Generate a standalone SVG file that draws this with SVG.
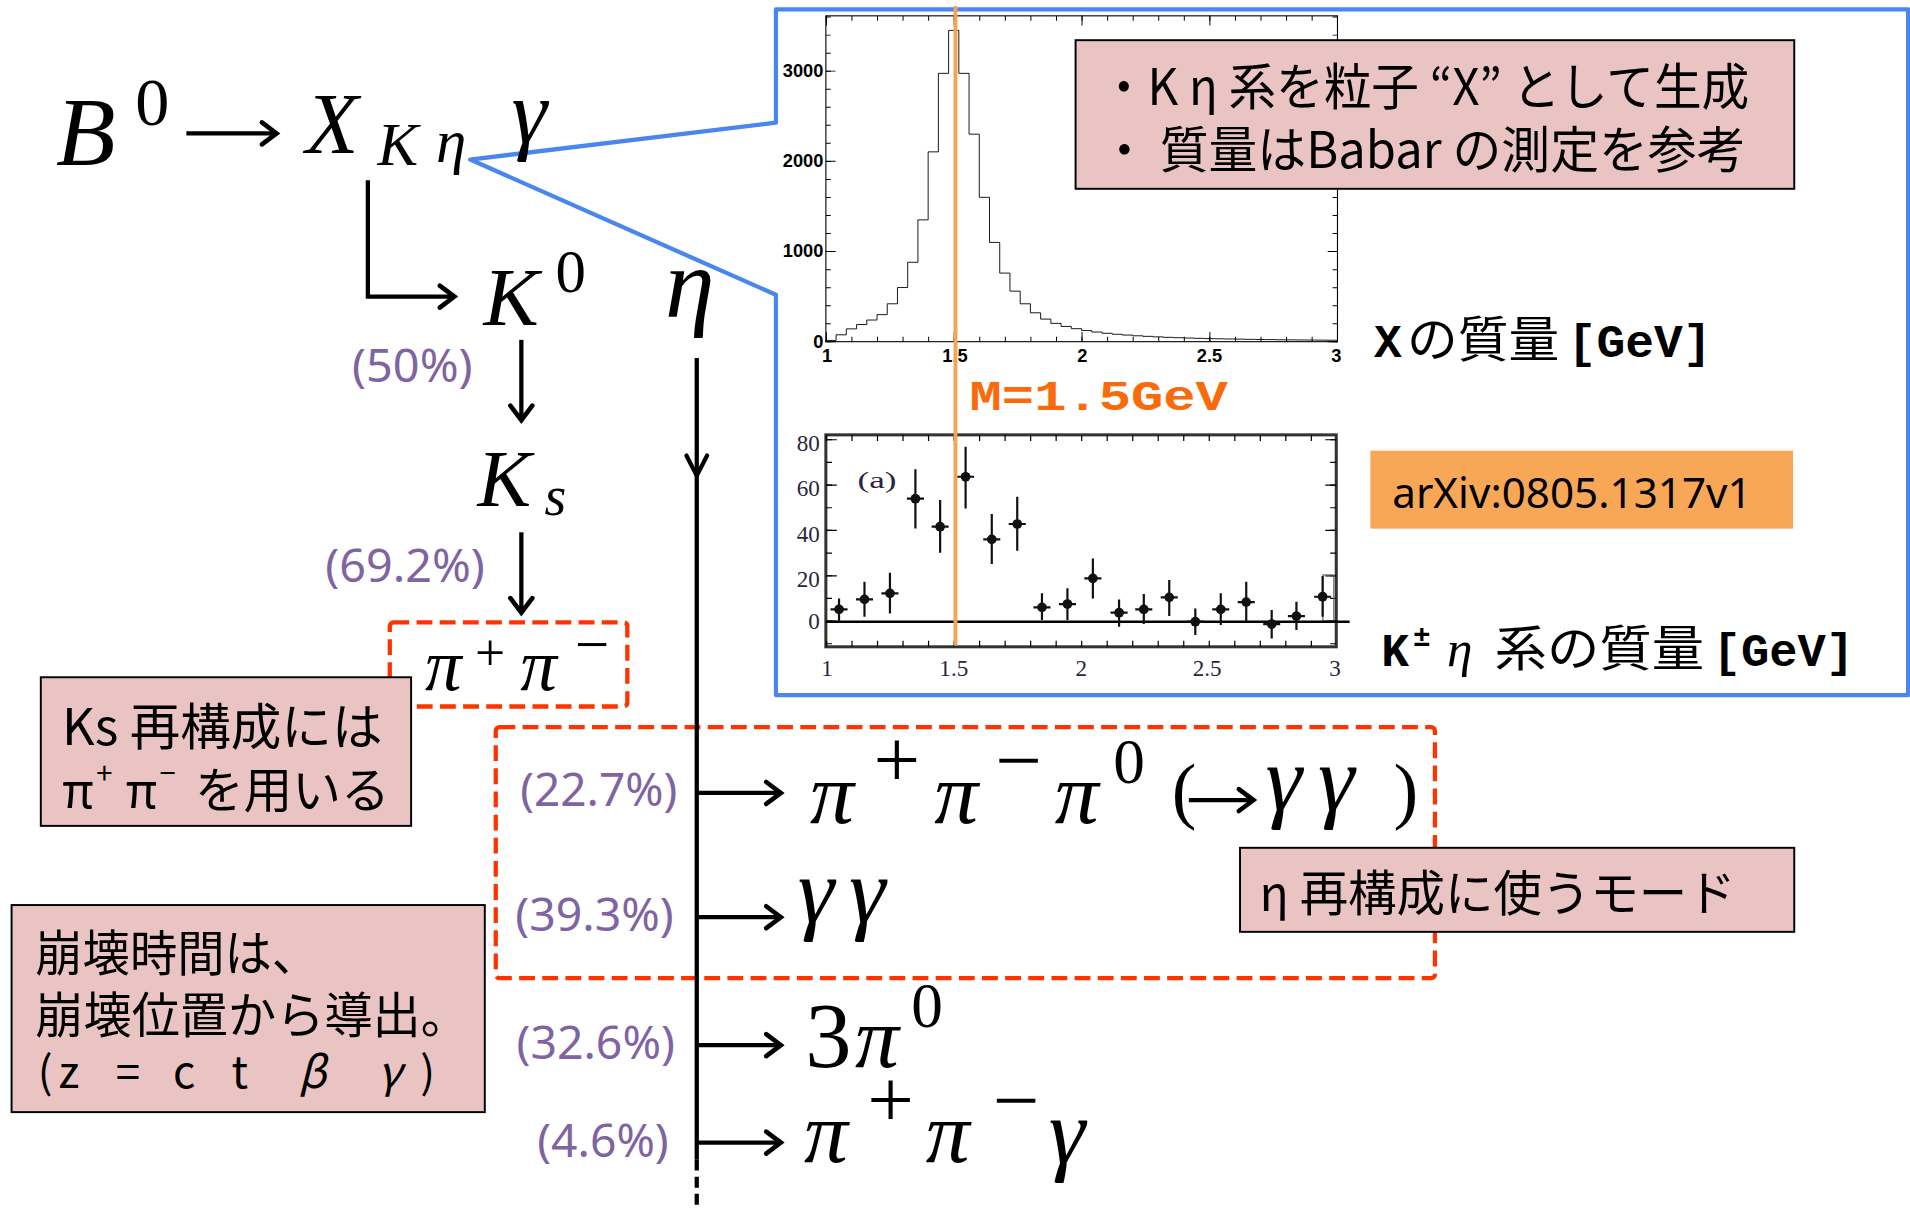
<svg xmlns="http://www.w3.org/2000/svg" width="1910" height="1209" viewBox="0 0 1910 1209">
<style>
.m{font-family:"Liberation Serif","DejaVu Serif",serif;font-style:italic;fill:#000}
.mu{font-family:"Liberation Serif","DejaVu Serif",serif;font-style:normal;fill:#000}
.pct{font-family:"Noto Sans","Liberation Sans",sans-serif;fill:#8064A2;font-size:38px}
.jp{font-family:"Noto Sans CJK JP","Noto Sans",sans-serif;fill:#000}
.mono{font-family:"Liberation Mono","Noto Sans CJK JP",monospace;font-weight:bold;fill:#000}
.pink{fill:#EAC4C3;stroke:#000;stroke-width:1.6}
.red{fill:none;stroke:#FF3300;stroke-width:3.5;stroke-dasharray:13 6}
.ln{stroke:#000;stroke-width:3.5;fill:none}
.tk{stroke:#000;fill:none}
.lab{font-family:"Liberation Sans",sans-serif;font-weight:bold;font-size:15px;fill:#000}
.slab{font-family:"Liberation Serif",serif;font-size:19px;fill:#2b2540}
.pt{stroke:#111;stroke-width:1.8;fill:none}
</style>
<defs>
<marker id="ah" markerUnits="userSpaceOnUse" markerWidth="30" markerHeight="30" viewBox="-16 -15 20 30" refX="0" refY="0" orient="auto" overflow="visible">
<path d="M-12,-9 L0,0 L-12,9" fill="none" stroke="#000" stroke-width="3.8" stroke-linecap="round"/>
</marker>
</defs>
<rect width="1910" height="1209" fill="#fff"/>
<g transform="scale(1.2181)">

<g id="callout">
<path d="M637,7.7 H1566.5 V570.6 H637 V242 L386,131 L637,100.7 Z" fill="#fff" stroke="#4A86EE" stroke-width="3.5" stroke-linejoin="round"/>
</g>

<g id="mass-histogram">
<rect x="678" y="13" width="420" height="267.5" fill="none" stroke="#000" stroke-width="0.9"/>
<line class="tk" x1="678" y1="278.5" x2="1098" y2="278.5" stroke-width="4" stroke-dasharray="0.8 20.19"/>
<line class="tk" x1="678" y1="276.5" x2="1098" y2="276.5" stroke-width="8" stroke-dasharray="0.8 104.15"/>
<line class="tk" x1="678" y1="15" x2="1098" y2="15" stroke-width="4" stroke-dasharray="0.8 20.19"/>
<line class="tk" x1="678" y1="17" x2="1098" y2="17" stroke-width="8" stroke-dasharray="0.8 104.15"/>
<line class="tk" x1="680" y1="281" x2="680" y2="13" stroke-width="4" stroke-dasharray="0.8 14.01"/>
<line class="tk" x1="682" y1="281" x2="682" y2="13" stroke-width="8" stroke-dasharray="0.8 73.27"/>
<line class="tk" x1="1096" y1="281" x2="1096" y2="13" stroke-width="4" stroke-dasharray="0.8 14.01"/>
<line class="tk" x1="1094" y1="281" x2="1094" y2="13" stroke-width="8" stroke-dasharray="0.8 73.27"/>
<path transform="translate(678,280.5) scale(209.9,-0.07407)" vector-effect="non-scaling-stroke" fill="none" stroke="#000" stroke-width="0.9" d="M0,0 V14 H0.04 V76 H0.08 V142 H0.12 V190 H0.16 V240 H0.2 V300 H0.24 V420 H0.28 V600 H0.32 V880 H0.36 V1350 H0.4 V2104 H0.44 V2974 H0.48 V3450 H0.52 V2974 H0.56 V2300 H0.6 V1600 H0.64 V1100 H0.68 V760 H0.72 V560 H0.76 V420 H0.8 V320 H0.84 V250 H0.88 V203 H0.92 V169 H0.96 V144 H1 V123 H1.04 V107 H1.08 V93 H1.12 V82 H1.16 V73 H1.2 V65 H1.24 V59 H1.28 V53 H1.32 V48 H1.36 V44 H1.4 V40 H1.44 V37 H1.48 V34 H1.52 V32 H1.56 V30 H1.6 V28 H1.64 V26 H1.68 V24 H1.72 V23 H1.76 V21 H1.8 V20 H1.84 V19 H1.88 V18 H1.92 V17 H1.96 V16 H2"/>
<g class="lab" text-anchor="end">
<text x="676" y="63">3000</text>
<text x="676" y="137">2000</text>
<text x="676" y="211">1000</text>
<text x="676" y="286">0</text>
</g>
<g class="lab" text-anchor="middle">
<text x="679" y="297">1</text>
<text x="784" y="297">1.5</text>
<text x="888.5" y="297">2</text>
<text x="993" y="297">2.5</text>
<text x="1097" y="297">3</text>
</g>
</g>

<g id="kEta-plot">
<rect x="678" y="357" width="419" height="174" fill="none" stroke="#333" stroke-width="2.5"/>
<line class="tk" x1="678" y1="359.5" x2="1097" y2="359.5" stroke-width="5" stroke-dasharray="1 19.95"/>
<line class="tk" x1="678" y1="528.5" x2="1097" y2="528.5" stroke-width="5" stroke-dasharray="1 19.95"/>
<line class="tk" x1="680.5" y1="529" x2="680.5" y2="357" stroke-width="5" stroke-dasharray="1 17.61"/>
<line class="tk" x1="1094.5" y1="529" x2="1094.5" y2="357" stroke-width="5" stroke-dasharray="1 17.61"/>
<line class="tk" x1="682.5" y1="510.4" x2="682.5" y2="357" stroke-width="9" stroke-dasharray="1 36.22"/>
<line class="tk" x1="1092.5" y1="510.4" x2="1092.5" y2="357" stroke-width="9" stroke-dasharray="1 36.22"/>
<rect x="1086" y="472" width="9" height="38" fill="none" stroke="#666" stroke-width="1"/>
<line x1="678" y1="510.4" x2="1108" y2="510.4" stroke="#000" stroke-width="2.2"/>
<text x="704" y="401" class="slab" font-size="24" textLength="32" lengthAdjust="spacingAndGlyphs">(a)</text>
<g class="slab" text-anchor="end">
<text x="673" y="370">80</text>
<text x="673" y="407">60</text>
<text x="673" y="445">40</text>
<text x="673" y="482">20</text>
<text x="673" y="516">0</text>
</g>
<g class="slab" text-anchor="middle">
<text x="679" y="555">1</text>
<text x="783" y="555">1.5</text>
<text x="887.6" y="555">2</text>
<text x="991" y="555">2.5</text>
<text x="1096" y="555">3</text>
</g>
<g class="pt">
<path d="M688.8,491.3 V510.4 M681.8,500.3 H695.8"/>
<path d="M709.7,477.6 V506.3 M702.7,492.1 H716.7"/>
<path d="M730.6,470.2 V503.6 M723.6,487.1 H737.6"/>
<path d="M751.5,385.3 V433.8 M744.5,409.4 H758.5"/>
<path d="M771.8,410.5 V453.8 M764.8,432.4 H778.8"/>
<path d="M792.7,366.7 V417.4 M785.7,391.4 H799.7"/>
<path d="M814.2,422 V463.1 M807.2,442.8 H821.2"/>
<path d="M835.1,407.8 V452.1 M828.1,430.2 H842.1"/>
<path d="M855.4,487.1 V509 M848.4,498.6 H862.4"/>
<path d="M876.3,483 V509 M869.3,495.9 H883.3"/>
<path d="M897.2,458.4 V491.3 M890.2,474.8 H904.2"/>
<path d="M918.7,492.1 V514.5 M911.7,503 H925.7"/>
<path d="M939,487.7 V512.3 M932,500.3 H946"/>
<path d="M959.9,476.2 V505.8 M952.9,490.4 H966.9"/>
<path d="M981.3,499.5 V521.4 M974.3,510.4 H988.3"/>
<path d="M1002.2,487.1 V513.1 M995.2,500.3 H1009.2"/>
<path d="M1023.1,477.6 V510.4 M1016.1,494.3 H1030.1"/>
<path d="M1044,500.8 V524.1 M1037,512.3 H1051"/>
<path d="M1064.3,494 V517.3 M1057.3,505.8 H1071.3"/>
<path d="M1085.8,472.9 V506.3 M1078.8,489.9 H1092.8"/>
</g>
<g fill="#111">
<circle cx="688.8" cy="500.3" r="4"/><circle cx="709.7" cy="492.1" r="4"/><circle cx="730.6" cy="487.1" r="4"/>
<circle cx="751.5" cy="409.4" r="4"/><circle cx="771.8" cy="432.4" r="4"/><circle cx="792.7" cy="391.4" r="4"/>
<circle cx="814.2" cy="442.8" r="4"/><circle cx="835.1" cy="430.2" r="4"/><circle cx="855.4" cy="498.6" r="4"/>
<circle cx="876.3" cy="495.9" r="4"/><circle cx="897.2" cy="474.8" r="4"/><circle cx="918.7" cy="503" r="4"/>
<circle cx="939" cy="500.3" r="4"/><circle cx="959.9" cy="490.4" r="4"/><circle cx="981.3" cy="510.4" r="4"/>
<circle cx="1002.2" cy="500.3" r="4"/><circle cx="1023.1" cy="494.3" r="4"/><circle cx="1044" cy="512.3" r="4"/>
<circle cx="1064.3" cy="505.8" r="4"/><circle cx="1085.8" cy="489.9" r="4"/>
</g>
</g>

<g id="mass-line">
<line x1="784.4" y1="5" x2="784.4" y2="530" stroke="#F7A355" stroke-width="3.2"/>
<text x="796" y="336.5" class="mono" font-size="35" style="fill:#F96B0A" textLength="212" lengthAdjust="spacingAndGlyphs">M=1.5GeV</text>
</g>

<g id="note-x">
<rect x="883" y="33" width="590" height="122" class="pink"/>
<text x="903" y="86" class="jp" font-size="41" textLength="533" lengthAdjust="spacingAndGlyphs">・K η 系を粒子 “X” として生成</text>
<text x="903" y="138" class="jp" font-size="41" textLength="530" lengthAdjust="spacingAndGlyphs">・ 質量はBabar の測定を参考</text>
</g>

<g id="axis-x-mass">
<text y="293"><tspan x="1128" class="mono" font-size="38">X</tspan><tspan x="1155" class="jp" font-size="40" textLength="125" lengthAdjust="spacingAndGlyphs">の質量</tspan><tspan x="1287" class="mono" font-size="38" textLength="118" lengthAdjust="spacingAndGlyphs">[GeV]</tspan></text>
</g>

<g id="arxiv">
<rect x="1125" y="370" width="347" height="64" fill="#F8A756"/>
<text x="1143" y="417" font-family="Noto Sans, Liberation Sans, sans-serif" font-size="35" textLength="295" lengthAdjust="spacingAndGlyphs">arXiv:0805.1317v1</text>
</g>

<g id="axis-keta-mass">
<text y="547"><tspan x="1134" class="mono" font-size="38">K</tspan><tspan x="1160" y="530" class="mono" font-size="24">±</tspan><tspan x="1188" y="547" class="m" font-size="42">η</tspan><tspan x="1227" class="jp" font-size="40" textLength="172" lengthAdjust="spacingAndGlyphs">系の質量</tspan><tspan x="1406" class="mono" font-size="38" textLength="116" lengthAdjust="spacingAndGlyphs">[GeV]</tspan></text>
</g>

<g id="pipi-box"><rect x="320" y="511" width="195" height="69" rx="3" class="red"/></g>
<g id="eta-modes-box"><rect x="407" y="597" width="771" height="206" rx="3" class="red"/></g>

<g id="connectors">
<path class="ln" d="M153,109.5 H227" marker-end="url(#ah)"/>
<path class="ln" d="M302,148 V243.5 H373" marker-end="url(#ah)"/>
<path class="ln" d="M428,279 V345" marker-end="url(#ah)"/>
<path class="ln" d="M428,437 V503" marker-end="url(#ah)"/>
<path class="ln" d="M572,294 V952"/>
<path class="ln" d="M572,952 V993" stroke-dasharray="9 5"/>
<path class="ln" d="M563.5,374 L572,390.5 L580.5,374" stroke-linecap="round"/>
<path class="ln" d="M572,651 H641" marker-end="url(#ah)"/>
<path class="ln" d="M572,753 H641" marker-end="url(#ah)"/>
<path class="ln" d="M572,858 H641" marker-end="url(#ah)"/>
<path class="ln" d="M572,938 H641" marker-end="url(#ah)"/>
<path class="ln" d="M976,656.8 H1029" marker-end="url(#ah)"/>
</g>

<g id="B0">
<text x="46" y="135.5" class="m" font-size="80">B</text>
<text x="111" y="103" class="mu" font-size="56">0</text>
</g>
<g id="XKeta">
<text x="251" y="126" class="m" font-size="71">X</text>
<text x="310" y="135.5" class="m" font-size="50">K</text>
<text x="358" y="133" class="m" font-size="50">η</text>
</g>
<g id="gamma">
<text x="420" y="117" class="m" font-size="74">γ</text>
</g>
<g id="K0">
<text x="397" y="267" class="m" font-size="68">K</text>
<text x="456" y="240" class="mu" font-size="50">0</text>
</g>
<g id="eta">
<text x="546" y="260" class="m" font-size="82">η</text>
</g>
<g id="Ks">
<text x="392" y="415.5" class="m" font-size="66">K</text>
<text x="447" y="423" class="m" font-size="46">s</text>
</g>
<g id="pipi">
<text x="349" y="566.5" class="m" font-size="60">π</text>
<text x="390" y="550" class="mu" font-size="44">+</text>
<text x="427" y="566.5" class="m" font-size="60">π</text>
<text x="472" y="546" class="mu" font-size="50">−</text>
</g>

<g id="pct">
<text x="289" y="314" class="pct" textLength="99" lengthAdjust="spacingAndGlyphs">(50%)</text>
<text x="267" y="478" class="pct" textLength="131" lengthAdjust="spacingAndGlyphs">(69.2%)</text>
<text x="427" y="662" class="pct" textLength="129" lengthAdjust="spacingAndGlyphs">(22.7%)</text>
<text x="423" y="764" class="pct" textLength="130" lengthAdjust="spacingAndGlyphs">(39.3%)</text>
<text x="424" y="869" class="pct" textLength="130" lengthAdjust="spacingAndGlyphs">(32.6%)</text>
<text x="441" y="950" class="pct" textLength="108" lengthAdjust="spacingAndGlyphs">(4.6%)</text>
</g>

<g id="mode-pipipi0">
<text x="665" y="676" class="m" font-size="72">π</text>
<text x="717" y="646" class="mu" font-size="68">+</text>
<text x="767" y="676" class="m" font-size="72">π</text>
<text x="817" y="646.5" class="mu" font-size="68">−</text>
<text x="866" y="676" class="m" font-size="72">π</text>
<text x="914" y="643" class="mu" font-size="52">0</text>
<text x="962" y="669" class="mu" font-size="61">(</text>
<text x="1039 1082" y="665" class="m" font-size="76">γγ</text>
<text x="1144" y="669" class="mu" font-size="61">)</text>
</g>
<g id="mode-gg">
<text x="655 697" y="757" class="m" font-size="76">γγ</text>
</g>
<g id="mode-3pi0">
<text x="661" y="875.7" class="mu" font-size="76">3</text>
<text x="702" y="875.7" class="m" font-size="72">π</text>
<text x="748" y="843" class="mu" font-size="52">0</text>
</g>
<g id="mode-pipig">
<text x="660" y="953.7" class="m" font-size="72">π</text>
<text x="712" y="925" class="mu" font-size="68">+</text>
<text x="760" y="953.7" class="m" font-size="72">π</text>
<text x="815" y="926" class="mu" font-size="68">−</text>
<text x="861" y="955" class="m" font-size="76">γ</text>
</g>

<g id="note-ks">
<rect x="33.5" y="556" width="304" height="122" class="pink"/>
<text x="51" y="612" class="jp" font-size="41" textLength="263" lengthAdjust="spacingAndGlyphs">Ks 再構成には</text>
<text y="663" class="jp" font-size="40"><tspan x="51">π</tspan><tspan x="79" y="644" font-size="24">+</tspan><tspan x="103" y="663">π</tspan><tspan x="131" y="644" font-size="24">−</tspan><tspan x="160" y="663">を用いる</tspan></text>
</g>

<g id="note-eta">
<rect x="1018" y="696" width="455" height="69" class="pink"/>
<text x="1034" y="748" class="jp" font-size="40" textLength="391" lengthAdjust="spacingAndGlyphs">η 再構成に使うモード</text>
</g>

<g id="note-decay-time">
<rect x="9.5" y="743" width="388.5" height="170" class="pink"/>
<text x="29" y="797" class="jp" font-size="40" textLength="233" lengthAdjust="spacingAndGlyphs">崩壊時間は、</text>
<text x="29" y="848" class="jp" font-size="40" textLength="356" lengthAdjust="spacingAndGlyphs">崩壊位置から導出。</text>
<text y="893" class="jp" font-size="36" x="31 48 70 95 120 142 165 190 215 245 280 310 345">(z = c t <tspan font-style="italic">β</tspan> <tspan font-style="italic">γ</tspan>)</text>
</g>

</g>
</svg>
